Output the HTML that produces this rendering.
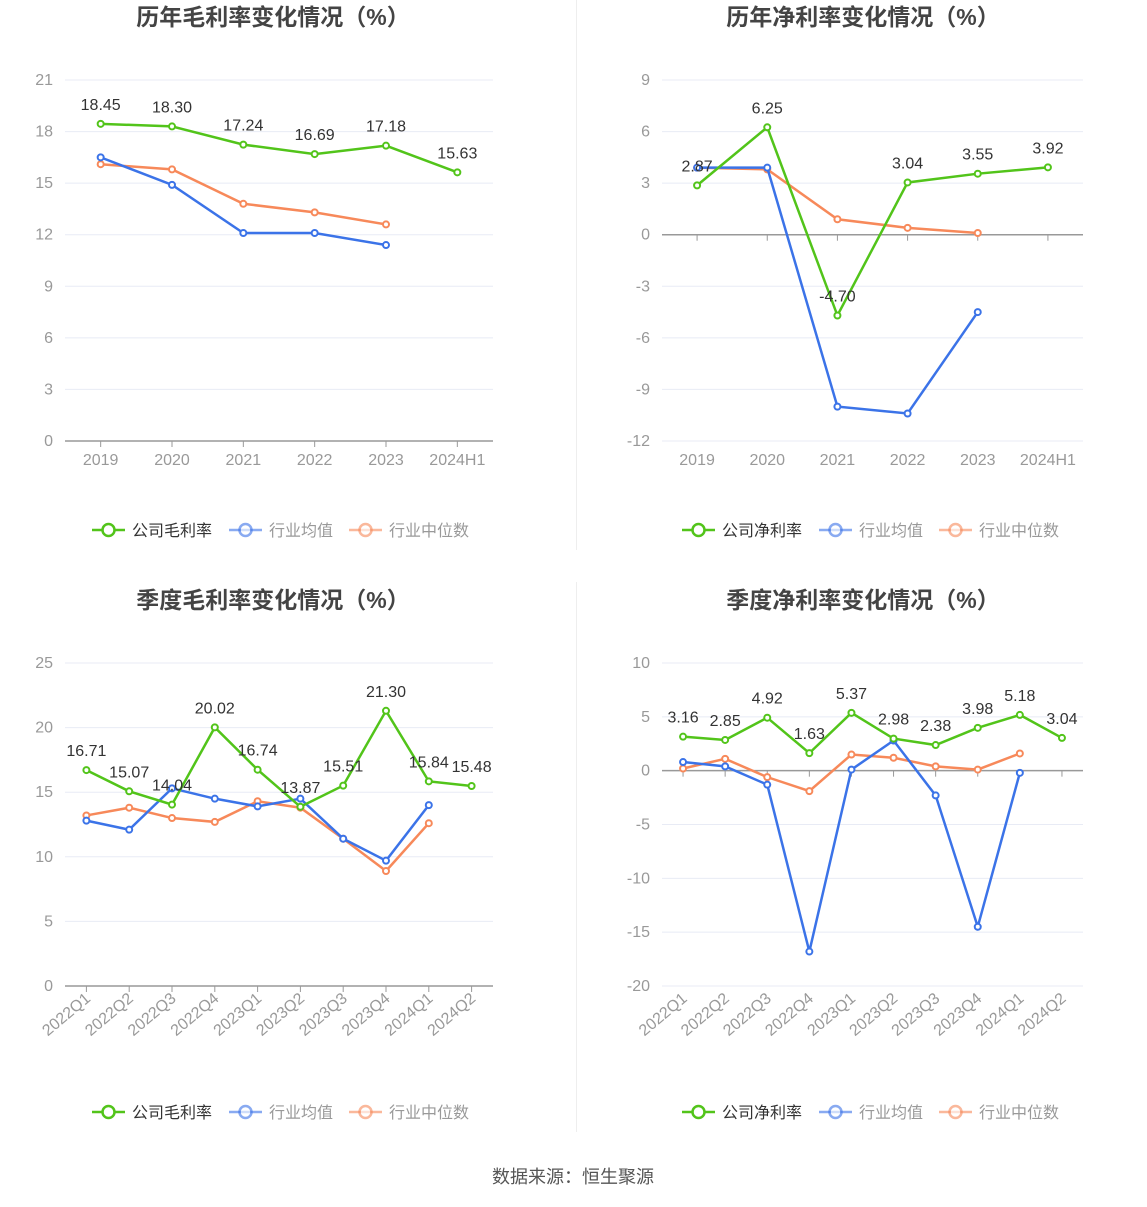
<!DOCTYPE html>
<html><head><meta charset="utf-8">
<style>
html,body{margin:0;padding:0;background:#fff;}
body{width:1147px;height:1202px;overflow:hidden;font-family:"Liberation Sans","Noto Sans CJK SC",sans-serif;}
svg text{font-family:"Liberation Sans","Noto Sans CJK SC",sans-serif;}
</style></head>
<body>
<svg id="root" width="1147" height="1202" viewBox="0 0 1147 1202" xmlns="http://www.w3.org/2000/svg">
<line x1="576.5" y1="0" x2="576.5" y2="550" stroke="#eee"/>
<line x1="576.5" y1="582" x2="576.5" y2="1132" stroke="#eee"/>
<text x="573" y="1183" text-anchor="middle" font-size="18" fill="#555">数据来源：恒生聚源</text>
</svg>
<script>
const annualCats = ["2019","2020","2021","2022","2023","2024H1"];
const quarterCats = ["2022Q1","2022Q2","2022Q3","2022Q4","2023Q1","2023Q2","2023Q3","2023Q4","2024Q1","2024Q2"];

const grossAnnualCompany = [18.45,18.30,17.24,16.69,17.18,15.63];
const grossAnnualAvg = [16.5,14.9,12.1,12.1,11.4];
const grossAnnualMedian = [16.1,15.8,13.8,13.3,12.6];
const grossAnnualTicks = [0,3,6,9,12,15,18,21];

const netAnnualCompany = [2.87,6.25,-4.70,3.04,3.55,3.92];
const netAnnualAvg = [3.9,3.9,-10.0,-10.4,-4.5];
const netAnnualMedian = [3.9,3.8,0.9,0.4,0.1];
const netAnnualTicks = [-12,-9,-6,-3,0,3,6,9];

const grossQuarterCompany = [16.71,15.07,14.04,20.02,16.74,13.87,15.51,21.30,15.84,15.48];
const grossQuarterAvg = [12.8,12.1,15.3,14.5,13.9,14.5,11.4,9.7,14.0];
const grossQuarterMedian = [13.2,13.8,13.0,12.7,14.3,13.8,11.4,8.9,12.6];
const grossQuarterTicks = [0,5,10,15,20,25];

const netQuarterCompany = [3.16,2.85,4.92,1.63,5.37,2.98,2.38,3.98,5.18,3.04];
const netQuarterAvg = [0.8,0.4,-1.3,-16.8,0.1,2.8,-2.3,-14.5,-0.2];
const netQuarterMedian = [0.2,1.1,-0.6,-1.9,1.5,1.2,0.4,0.1,1.6];
const netQuarterTicks = [-20,-15,-10,-5,0,5,10];

const NS="http://www.w3.org/2000/svg";
const root=document.getElementById('root');
function mk(tag,attrs,parent,text){const e=document.createElementNS(NS,tag);for(const k in attrs)e.setAttribute(k,attrs[k]);if(text!==undefined)e.textContent=text;(parent||root).appendChild(e);return e;}

const GREEN="#52c41a",BLUE="#3b73e8",ORANGE="#f7895a";

function chart(o){
  const g=mk('g',{});
  
  
  const t=mk('text',{x:o.cx,y:o.titleY,'text-anchor':'middle','font-size':23,'font-weight':'bold',fill:'#444'},g,o.title);
  
  
  const min=o.ticks[0],max=o.ticks[o.ticks.length-1];
  const y=v=>o.y1-(v-min)/(max-min)*(o.y1-o.y0);
  const n=o.cats.length,bw=(o.x1-o.x0)/n;
  const x=i=>o.x0+bw*(i+0.5);
  o.ticks.forEach(v=>{
    const gl=mk('line',{x1:o.x0,x2:o.x1,y1:y(v),y2:y(v),stroke:v===0?'#999':'#e8ebf5','stroke-width':v===0?1.5:1},g);
    
    
    const tl=mk('text',{x:o.x0-12,y:y(v)+5,'text-anchor':'end','font-size':16,fill:'#999'},g,String(v));
    
    
  });
  const zy=y(Math.max(min,0));
  for(let i=0;i<n;i++){
    mk('line',{x1:x(i),x2:x(i),y1:zy,y2:zy+6,stroke:'#999'},g);
    let lb;
    if(o.rotate){
      lb=mk('text',{x:x(i)+5,y:o.y1+14,'text-anchor':'end','font-size':16,fill:'#999',transform:`rotate(-40 ${x(i)+5} ${o.y1+14})`},g,o.cats[i]);
    } else {
      lb=mk('text',{x:x(i),y:o.y1+24,'text-anchor':'middle','font-size':16,fill:'#999'},g,o.cats[i]);
    }
    
    
  }
  const series=[[o.median,ORANGE,'median-line'],[o.avg,BLUE,'average-line'],[o.company,GREEN,'company-line']];
  series.forEach(([arr,col,nm])=>{
    const pl=mk('polyline',{points:arr.map((v,i)=>x(i)+','+y(v)).join(' '),fill:'none',stroke:col,'stroke-width':2.5},g);
    
    
    arr.forEach((v,i)=>{
      const c=mk('circle',{cx:x(i),cy:y(v),r:3,fill:'#fff',stroke:col,'stroke-width':2},g);
      
      
    });
  });
  o.company.forEach((v,i)=>{
    const l=mk('text',{x:x(i),y:y(v)-14,'text-anchor':'middle','font-size':16,fill:'#333'},g,v.toFixed(2));
    
    
  });
  const legend=[[o.companyName,GREEN,'#333'],['行业均值',BLUE,'#999'],['行业中位数',ORANGE,'#999']];
  let lx=o.cx-181;
  const widths=[137,120,140];
  legend.forEach(([name,col,tc],k)=>{
    const lg=mk('g',{},g);
    
    
    const op=k===0?1:0.6;
    mk('line',{x1:lx,x2:lx+33,y1:o.legendY,y2:o.legendY,stroke:col,'stroke-width':2.5,opacity:op},lg);
    mk('circle',{cx:lx+16.5,cy:o.legendY,r:6,fill:'#fff',stroke:col,'stroke-width':2.5,opacity:op},lg);
    mk('text',{x:lx+40,y:o.legendY+6,'font-size':16,fill:tc},lg,name);
    lx+=widths[k];
  });
}

chart({name:'annual-gross-margin-chart',title:'历年毛利率变化情况（%）',cx:273,titleY:25,x0:65,x1:493,y0:80,y1:441,ticks:grossAnnualTicks,cats:annualCats,company:grossAnnualCompany,avg:grossAnnualAvg,median:grossAnnualMedian,companyName:'公司毛利率',legendY:530,rotate:false});
chart({name:'annual-net-margin-chart',title:'历年净利率变化情况（%）',cx:863,titleY:25,x0:662,x1:1083,y0:80,y1:441,ticks:netAnnualTicks,cats:annualCats,company:netAnnualCompany,avg:netAnnualAvg,median:netAnnualMedian,companyName:'公司净利率',legendY:530,rotate:false});
chart({name:'quarterly-gross-margin-chart',title:'季度毛利率变化情况（%）',cx:273,titleY:608,x0:65,x1:493,y0:663,y1:986,ticks:grossQuarterTicks,cats:quarterCats,company:grossQuarterCompany,avg:grossQuarterAvg,median:grossQuarterMedian,companyName:'公司毛利率',legendY:1112,rotate:true});
chart({name:'quarterly-net-margin-chart',title:'季度净利率变化情况（%）',cx:863,titleY:608,x0:662,x1:1083,y0:663,y1:986,ticks:netQuarterTicks,cats:quarterCats,company:netQuarterCompany,avg:netQuarterAvg,median:netQuarterMedian,companyName:'公司净利率',legendY:1112,rotate:true});
</script>
</body></html>
